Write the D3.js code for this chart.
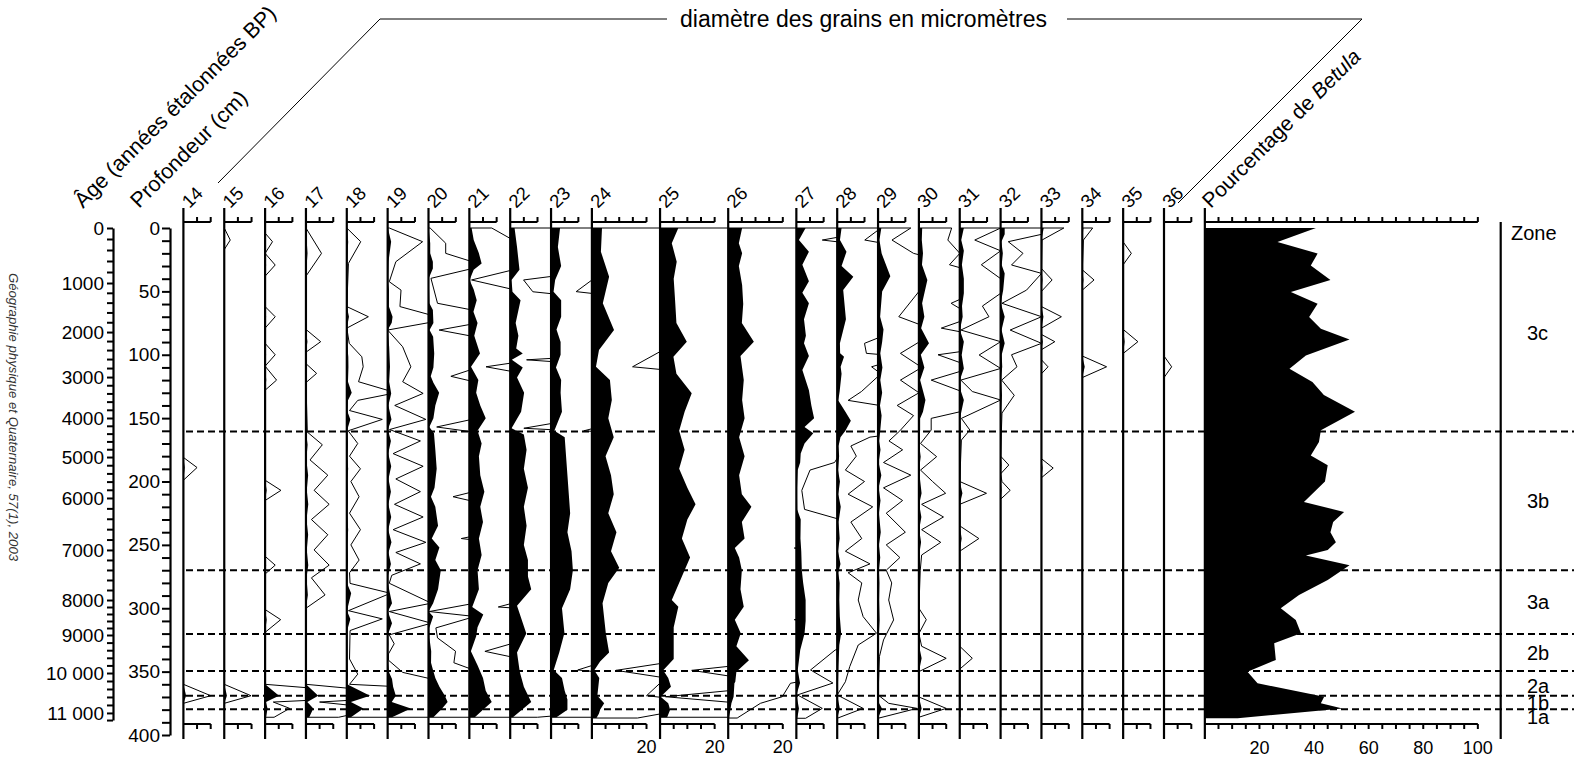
<!DOCTYPE html>
<html><head><meta charset="utf-8">
<script src="https://cdn.jsdelivr.net/npm/d3@7"></script>
<style>
body{margin:0;background:#fff}
svg{display:block}
text{font-family:"Liberation Sans",Arial,Helvetica,sans-serif;fill:#000}
</style></head>
<body><svg id="c" width="1574" height="759"></svg>
<script>
// ---------------- DATA ----------------
const panelNames = ["14","15","16","17","18","19","20","21","22","23","24","25","26","27","28","29","30","31","32","33","34","35","36"];
const panelMax   = [10,10,10,10,10,10,10,10,10,10,20,20,20,10,10,10,10,10,10,10,10,10,10];
const bottomLabelled = ["24","25","26"];

// [depth cm, value]
const g14 = [[0,0],[181,0],[189,0.5],[199,0],[360,0],[369,1.0],[375,0],[386,0]];
const g15 = [[0,0],[9.5,0.22],[17,0],[360,0],[369,0.98],[375,0],[386,0]];
const g16 = [[0,0],[4,0],[10.8,0.27],[20,0],[29.2,0.37],[38,0],[62,0],[70,0.37],[79,0],[91,0],[100,0.37],[109,0],[120,0.42],[128,0],[199,0],[207,0.58],[215,0],[259,0],[266,0.37],[273,0],[301,0],[309,0.57],[319,0],[360,0],[369,5.1],[374,0.3],[379,0.9],[386,0.33]];
const g17 = [[0,0],[20,0.57],[38,0],[80,0],[89.7,0.54],[98,0],[107,0],[114.7,0.39],[122,0],[161,0.05],[171,0.6],[183,0.15],[195,0.8],[207,0.3],[218,0.85],[230,0.2],[242,0.8],[254,0.3],[266,0.85],[276,0.2],[289.5,0.7],[300,0],[360,0],[369,4.5],[374,0.5],[379,2.7],[386,1.2]];
const g18 = [[0,0],[10.8,0.51],[27.9,0.06],[62,0],[70,0.79],[79,0],[91,0.09],[101.6,0.55],[109.5,0.6],[121.3,0.43],[130,1.8],[136,0.4],[144,0.1],[151,1.3],[160,0.05],[170,0.4],[180,0.1],[190,0.5],[200,0.15],[212,0.45],[225,0.1],[238,0.5],[250,0.15],[262,0.45],[272,0.1],[280.4,0.12],[288.2,1.6],[301.9,0.06],[308.4,1.3],[317.6,0.12],[340,0.1],[352,0.4],[360,0.1],[369,8.5],[374,1.5],[379,6.1],[386,1.5]];
const g19 = [[0,0.06],[10.8,1.28],[26.6,0.3],[42.4,0.06],[49,0.49],[62,0.45],[70,1.8],[74.7,1.5],[80.5,0.0],[93.7,0.55],[109.5,0.85],[121.3,0.55],[130.5,1.3],[140,0.26],[151,1.4],[159,0.07],[168,1.2],[178,0.2],[188,1.3],[198,0.3],[208,1.2],[218,0.25],[228,1.3],[238,0.2],[248,1.4],[256,0.3],[265,1.2],[274,0.15],[280.3,0.06],[296,1.6],[302.6,0.06],[311.8,1.6],[321,0.06],[328,0.24],[336,0.03],[341,0.03],[350.6,0.55],[355.8,1.6],[362,2],[369,3],[374,1.5],[379,8.5],[386,1.6]];
const g20 = [[0,0.06],[12,0.63],[20,0.63],[26.6,1.6],[32,1.6],[39.7,0.09],[59.4,0.33],[64.7,1.6],[75,1.8],[80.5,0.39],[85.8,1.7],[99,2.1],[110,1.8],[117,0.82],[122,1.8],[130,3.9],[140,2.5],[150,1.8],[157,0.3],[162,2],[175,2.5],[190,3],[205,2.2],[212,0.9],[220,2.5],[235,3.5],[245,1.2],[252,4],[262,2.5],[270,4.5],[285,3.5],[296,1.7],[302.6,0.03],[306.5,1.7],[315.5,0.27],[323.4,0.33],[333.9,0.99],[343,0.93],[348.3,1.6],[355,2.5],[362,4],[369,6],[374,7],[379,5],[386,1.8]];
const g21 = [[0,0.82],[9.5,1.6],[20,3.5],[28,4.5],[33,1.6],[41,0.08],[48.5,1.6],[57,2.7],[66,1.5],[75,3],[85,1.8],[99,3.9],[109.5,0.61],[120,3.3],[130,2.5],[140,4],[150,6],[160,3],[170,4.5],[180,3.5],[195,4],[208,5.5],[220,4],[232,5],[245,3.5],[258,4.5],[270,3],[285,3.5],[299,1.06],[305,5.1],[315,3],[322,2.5],[334,0.57],[345,3],[355,5],[365,6],[374,8.2],[380,5],[386,2]];
const g22 = [[0,1.6],[15,2.5],[33,3.4],[41,0.49],[50.3,0.83],[57,3.8],[75,2],[85,3],[95,2.2],[99,4.6],[104,0.6],[110,4.6],[118,2.5],[130,5.1],[145,4],[158,0.5],[163,5],[175,6],[190,5],[205,6.5],[220,5],[235,6],[250,5],[262,6.5],[275,6.5],[285,7.7],[298,2.5],[320,5.9],[335,2.5],[350,3.5],[362,5],[374,7.7],[386,1]];
const g23 = [[0,3.3],[15,2.5],[30,3.7],[41,1.5],[50.2,0.92],[57,3.7],[70,3.7],[80,2],[90,3.5],[100,3.5],[110,1.8],[120,3.7],[130,3.5],[145,4],[160,1.2],[165,5],[180,5.5],[195,6],[210,6.5],[225,7],[240,6],[255,7.5],[270,8],[285,7],[300,4],[319.5,4.9],[335,3],[348.7,0.98],[355,4],[365,5],[372,6],[380,6],[386,2]];
const g24 = [[0,3.7],[18.7,3.3],[38.4,6.3],[59.4,4],[80.5,8.1],[96.3,2.6],[109.5,1.49],[120,6.6],[135.7,7.3],[150,6],[165,8],[180,5],[195,7],[210,8],[225,6],[240,9],[255,7],[268,10],[280,6],[296,3.9],[319.7,5.1],[335,6.3],[342,3],[349,0.88],[355,2.7],[369,2.0],[375,4.5],[380,3],[383,2.6],[386.6,1.67]];
const g25 = [[0,6.7],[12.1,4.3],[26.6,6.1],[40,5],[56.8,5.5],[75,6],[89.7,9.8],[101.5,4.9],[115,6],[130.4,11.6],[145,9],[160,7],[175,9],[190,7],[205,10],[218,13],[230,10],[245,8],[260,11],[275,8],[293.5,4.3],[298.8,6.7],[315,5],[325,5],[340,5],[349,1.16],[355,3],[362,4],[369.8,0.2],[375,3],[380,3.7],[386,2.6]];
const g26 = [[0,5.1],[12,3.9],[20,5.1],[30,3.9],[45,5.1],[60,5.5],[75,5],[89.7,9.4],[101,4.5],[120,5.7],[135.7,5.1],[150,6],[165,4],[180,6],[195,4],[210,5],[220,8.5],[232,5],[245,6],[252.5,2.42],[260,4],[270,5],[285,4.5],[298.8,5.7],[309,2.42],[319.7,4.6],[330,3],[341,7.6],[350,3],[357.9,2.6],[359.2,2.28],[369.8,1.98],[375,1.18],[386.6,0.33]];
const g27 = [[0,3.4],[9.5,0.95],[18.7,4.6],[29,2.2],[42,4.6],[51,2.2],[59.4,4.6],[72,2.8],[85,3.5],[91,2.8],[101,4.6],[112,2.2],[128,4.6],[140,5.5],[150,6.5],[157,3],[162,6.2],[170,3],[178,1.6],[185,1.4],[191,0.5],[207,0.2],[222,0.3],[230,1.6],[245,1.5],[255,1.8],[270,2],[280,2.5],[293.5,3.4],[310,3.4],[320,3],[333,1.42],[348.7,0.52],[359,1.34],[368.4,0.04],[379,0.95],[386.8,0.34]];
const g28 = [[0,1.6],[9.5,1.01],[18.7,3.4],[30,1.6],[38.4,5.9],[49,2.2],[72,3.2],[91,1],[98.9,1.07],[101.5,2.5],[109.5,1.26],[115,1.6],[129,0.89],[136,0.4],[145,3],[152,5],[160,3],[165,1.2],[172,0.5],[180,0.7],[191,0.3],[200,1.0],[210,0.4],[220,1.3],[232,0.5],[245,0.9],[255,0.3],[265,1.2],[272,0.4],[280,0.9],[293.5,0.77],[306.6,0.95],[319.7,1.44],[329,0.77],[346,0.46],[358,0.3],[368.4,0],[379,0.95],[386.8,0]];
const g29 = [[0,1.2],[9.5,0.51],[20,1.3],[38,4.5],[50,1.5],[70,0.76],[80,2],[90,1.5],[98.9,0.82],[110,1.6],[120,0.82],[130,1.5],[140,0.7],[148,1.3],[160,0.8],[168,0.4],[175,0.9],[185,0.2],[195,1.2],[205,0.2],[215,0.9],[225,0.3],[240,1.0],[250,0.3],[260,0.8],[270,0.3],[280,0.5],[293.5,0.39],[309.2,0.57],[325,0.2],[338.2,0.05],[368.4,0],[375,0.39],[379,1.43],[386.8,0]];
const g30 = [[0,1.2],[9.5,1.06],[20,1.5],[29,1.12],[41,3.1],[59.4,1.18],[70,2],[79,0.82],[91,3.7],[100,0.7],[110,2],[120,0.45],[135.7,2.4],[145,1.5],[150.2,0.45],[159.4,0.45],[170,0.06],[180.4,0.65],[191,0.06],[200,0.5],[209.3,0.98],[218,0.1],[228,0.9],[238,0.1],[248,0.8],[258,0.1],[270,0.05],[300,0],[309,0.27],[320,0],[330,0.1],[339.5,1.0],[350,0],[370,0],[379,1.0],[386,0]];
const g31 = [[0,1.5],[9.5,0.55],[18,1.5],[29,0.79],[40,1.5],[51.5,1.5],[61.6,0.83],[70,1.07],[80.5,0.04],[89.7,1.5],[100.2,0.71],[110.8,1.5],[120,0.04],[129,0.46],[135.7,1.5],[150.2,0.06],[159.4,0.37],[167.3,0.06],[200,0],[209.3,0.98],[218,0],[235,0],[245,0.7],[255,0],[330,0],[339.5,0.46],[348,0],[386,0]];
const g32 = [[0,1.5],[5,1.5],[10.8,0.28],[20,0.82],[29.2,0.4],[35.8,1.5],[49,0.95],[59.4,0.05],[70,1.5],[80.5,0.35],[91,1.5],[100,0.4],[109.5,0.6],[120,0.04],[132,0.5],[146,0.05],[180,0],[187,0.3],[194,0],[200,0.05],[207,0.35],[214,0],[386,0]];
const g33 = [[0,0.82],[9.5,0.02],[32,0],[41,0.39],[50,0],[62,0],[70,0.73],[79,0],[84,0],[89.7,0.49],[96,0],[104,0],[109.5,0.24],[115,0],[182,0],[189.4,0.43],[197,0],[386,0]];
const g34 = [[0,0.38],[9.5,0.04],[33,0],[41,0.43],[49,0],[101,0],[109.5,0.89],[118,0],[386,0]];
const g35 = [[0,0],[11,0],[20,0.3],[29,0],[80,0],[89.7,0.54],[99,0],[386,0]];
const g36 = [[0,0],[101,0],[109.5,0.28],[118,0],[386,0]];
const grainSeries = [g14,g15,g16,g17,g18,g19,g20,g21,g22,g23,g24,g25,g26,g27,g28,g29,g30,g31,g32,g33,g34,g35,g36];

// Betula percentage [depth, %]
const betula = [[0,40.7],[11,26.6],[20.2,41.3],[29.5,38.8],[41,46],[50.5,31.5],[59.7,41.3],[70.2,38.2],[79.4,42.5],[88,53],[100.5,37],[111,31],[121.5,39.4],[131.8,43.6],[145,55],[159.6,42.5],[168.8,41.8],[179.4,38.8],[187.2,45],[200,44],[216.2,36.3],[224,51],[232,47],[240,46],[248,48],[254,45],[258.3,37],[266,53],[277.7,45],[289.5,34.5],[300,27.8],[309.3,33.3],[319.8,35.2],[327.7,25.4],[340.8,26],[350,15.6],[359.2,19.3],[369.8,43.7],[375,42.5],[379,50.4],[386.8,12]];

const zoneBounds = [160.5,270,320.3,349.6,369,379.7];
const zoneNames  = ["3c","3b","3a","2b","2a","1b","1a"];
const zoneLabelDepths = [83,215,295,335,361,374.5,385.5];

const ageValues = [0,1000,2000,3000,4000,5000,6000,7000,8000,9000,10000,11000,11200];
const ageDepths = [0,43.4,82.1,117.6,149.9,180.7,213,254,293.5,321.1,351.1,382.6,388.2];
const depthLabelTicks = [0,50,100,150,200,250,300,350,400];
const betulaLabels = [20,40,60,80,100];

// ---------------- LAYOUT ----------------
const svg = d3.select("#c");
const y = d3.scaleLinear().domain([0,400]).range([228,735]);
const PX = 2.73;
const GAP = 13.55;
const X0 = 183.4;
const EXAG = 10;
const TOP = 222, BOT = 724, VTOP = 208, VBOT = 739;
const lab = 18.5;

let cursor = X0;
const panels = panelNames.map((n,i)=>{
  const x0 = cursor;
  const xs = d3.scaleLinear().domain([0,panelMax[i]]).range([x0, x0+panelMax[i]*PX]);
  cursor = x0 + panelMax[i]*PX + GAP;
  return {name:n, max:panelMax[i], x0, xs, data:grainSeries[i]};
});
const betX0 = cursor;
const xb = d3.scaleLinear().domain([0,100]).range([betX0, betX0+100*PX]);

const defs = svg.append("defs");

// ---------------- AGE AXIS ----------------
const yAge = d3.scaleLinear().domain(ageValues).range(ageDepths.map(d=>y(d)));
const ageMinor = d3.range(0,11201,200);
const fmtAge = v => v>=10000 ? d3.format(",")(v).replace(","," ") : String(v);
const ageAxis = d3.axisLeft(yAge).tickValues(ageMinor).tickSize(6).tickSizeOuter(0)
  .tickFormat(v => (v%1000===0 && v<=11000) ? fmtAge(v) : "");
const gA = svg.append("g").attr("transform","translate(113,0)").call(ageAxis);
gA.select(".domain").attr("stroke-width",2.2);
gA.selectAll(".tick line").attr("stroke-width",2);
gA.selectAll(".tick text").attr("x",-9).style("font-size","19px").style("font-family","Liberation Sans, Arial");

// ---------------- DEPTH AXIS ----------------
const depthAxis = d3.axisLeft(y).tickValues(d3.range(0,401,10)).tickSize(8).tickSizeOuter(0)
  .tickFormat(v => depthLabelTicks.includes(v) ? v : "");
const gD = svg.append("g").attr("transform","translate(170,0)").call(depthAxis);
gD.select(".domain").attr("stroke-width",2.2);
gD.selectAll(".tick line").attr("stroke-width",2);
gD.selectAll(".tick text").attr("x",-10).style("font-size","19px").style("font-family","Liberation Sans, Arial");

// ---------------- PANELS ----------------
panels.forEach((p,i)=>{
  const g = svg.append("g");
  const nextX = i < panels.length-1 ? panels[i+1].x0 : betX0;
  const cid = "clip"+p.name;
  defs.append("clipPath").attr("id",cid).append("rect")
    .attr("x",p.x0).attr("y",0).attr("width",nextX-p.x0).attr("height",759);

  const area = d3.area().x0(p.x0).x1(d=>p.xs(d[1])).y(d=>y(d[0]));
  g.append("path").datum(p.data).attr("d",area).attr("fill","#000");

  const ex = [[p.data[0][0],0]].concat(p.data.map(d=>[d[0],d[1]*EXAG])).concat([[p.data[p.data.length-1][0],0]]);
  const line = d3.line().x(d=>p.xs(d[1])).y(d=>y(d[0]));
  g.append("path").attr("d",line(ex)+"Z")
    .attr("fill","none").attr("stroke","#000").attr("stroke-width",1)
    .attr("clip-path","url(#"+cid+")");

  g.append("line").attr("x1",p.x0).attr("x2",p.x0).attr("y1",VTOP).attr("y2",VBOT)
    .attr("stroke","#000").attr("stroke-width",2.2);
  const ticks = d3.range(5,p.max+0.1,5);
  [[TOP,-5],[BOT,5]].forEach(([yy,dir])=>{
    g.append("line").attr("x1",p.x0).attr("x2",p.xs(p.max)).attr("y1",yy).attr("y2",yy)
      .attr("stroke","#000").attr("stroke-width",2);
    g.selectAll(null).data(ticks).enter().append("line")
      .attr("x1",d=>p.xs(d)).attr("x2",d=>p.xs(d)).attr("y1",yy).attr("y2",yy+dir)
      .attr("stroke","#000").attr("stroke-width",2);
  });
  if (bottomLabelled.includes(p.name)) {
    g.append("text").attr("x",p.xs(20)).attr("y",753).attr("text-anchor","middle")
      .style("font-size","18px").text("20");
  }
  g.append("text").attr("transform",`translate(${p.x0+6},${VTOP+1}) rotate(-45)`)
    .style("font-size",lab+"px").text(p.name);
});

// ---------------- BETULA ----------------
const gb = svg.append("g");
gb.append("path").datum(betula)
  .attr("d", d3.area().x0(betX0).x1(d=>xb(d[1])).y(d=>y(d[0])))
  .attr("fill","#000");
gb.append("line").attr("x1",betX0).attr("x2",betX0).attr("y1",VTOP).attr("y2",VBOT)
  .attr("stroke","#000").attr("stroke-width",2.2);
const bt = d3.range(5,100.1,5);
[[TOP,-5],[BOT,5]].forEach(([yy,dir])=>{
  gb.append("line").attr("x1",betX0).attr("x2",xb(100)).attr("y1",yy).attr("y2",yy)
    .attr("stroke","#000").attr("stroke-width",2);
  gb.selectAll(null).data(bt).enter().append("line")
    .attr("x1",d=>xb(d)).attr("x2",d=>xb(d)).attr("y1",yy).attr("y2",yy+dir)
    .attr("stroke","#000").attr("stroke-width",2);
});
gb.selectAll(null).data(betulaLabels).enter().append("text")
  .attr("x",d=>xb(d)).attr("y",754).attr("text-anchor","middle")
  .style("font-size","18px").text(d=>d);
const bl = gb.append("text").attr("transform",`translate(${betX0+6},${VTOP+1}) rotate(-45)`)
  .style("font-size","21px");
bl.append("tspan").text("Pourcentage de ");
bl.append("tspan").style("font-style","italic").text("Betula");

// ---------------- ZONES ----------------
svg.selectAll(null).data(zoneBounds).enter().append("line")
  .attr("x1",186).attr("x2",1574).attr("y1",d=>y(d)).attr("y2",d=>y(d))
  .attr("stroke","#000").attr("stroke-width",2).attr("stroke-dasharray","7,4");
svg.append("line").attr("x1",1500.7).attr("x2",1500.7).attr("y1",222).attr("y2",VBOT)
  .attr("stroke","#000").attr("stroke-width",2.2);
svg.append("text").attr("x",1511).attr("y",240).style("font-size","20px").text("Zone");
svg.selectAll(null).data(zoneNames).enter().append("text")
  .attr("x",1527).attr("y",(d,i)=>y(zoneLabelDepths[i])).attr("dy","0.36em")
  .style("font-size","20px").text(d=>d);

// ---------------- HEADERS ----------------
svg.append("text").attr("transform","translate(83,209) rotate(-45)")
  .style("font-size","21.5px").text("Âge (années étalonnées BP)");
svg.append("text").attr("transform","translate(139,209) rotate(-45)")
  .style("font-size","21.5px").text("Profondeur (cm)");
svg.append("polyline").attr("points","218,183 380,19 667,19")
  .attr("fill","none").attr("stroke","#000").attr("stroke-width",1);
svg.append("polyline").attr("points","1067,19 1362,19 1178,203")
  .attr("fill","none").attr("stroke","#000").attr("stroke-width",1);
svg.append("text").attr("x",863.5).attr("y",27).attr("text-anchor","middle")
  .style("font-size","23px").text("diamètre des grains en micromètres");
svg.append("text").attr("transform","translate(9,417) rotate(90)").attr("text-anchor","middle")
  .style("font-size","13.2px").style("font-style","italic").style("fill","#333")
  .text("Géographie physique et Quaternaire, 57(1), 2003");
</script></body></html>
